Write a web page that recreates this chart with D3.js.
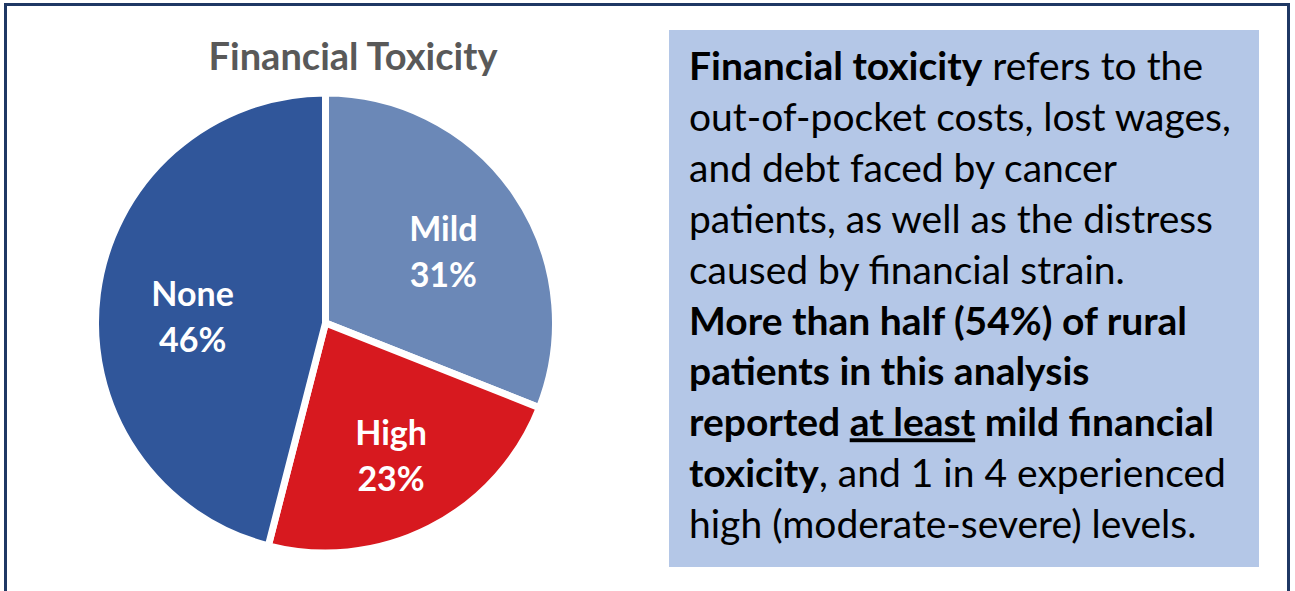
<!DOCTYPE html>
<html>
<head>
<meta charset="utf-8">
<script src="https://cdn.jsdelivr.net/npm/d3@7"></script>
<style>
  body { margin: 0; background: #fff; }
  svg { display: block; font-family: Lato, "Open Sans", sans-serif; }
</style>
</head>
<body>
<div class="chart"></div>
<script>
var svgWidth = 1295;
var svgHeight = 591;

// pie data (clockwise from 12 o'clock)
var categories = ["Mild", "High", "None"];
var values = [31, 23, 46];
var sliceColors = ["#6b88b7", "#d7191f", "#30569a"];

var title = "Financial Toxicity";

// text in the blue box, one array per line: [text, bold, underline]
var noteLines = [
  [["Financial toxicity", true], [" refers to the", false]],
  [["out-of-pocket costs, lost wages,", false]],
  [["and debt faced by cancer", false]],
  [["patients, as well as the distress", false]],
  [["caused by financial strain.", false]],
  [["More than half (54%) of rural", true]],
  [["patients in this analysis", true]],
  [["reported ", true], ["at least", true, true], [" mild financial", true]],
  [["toxicity", true], [", and 1 in 4 experienced", false]],
  [["high (moderate-severe) levels.", false]]
];

var svg = d3.select(".chart")
  .append("svg")
  .attr("width", svgWidth)
  .attr("height", svgHeight);

// outer frame
svg.append("rect")
  .attr("x", 5.5)
  .attr("y", 4.5)
  .attr("width", 1283)
  .attr("height", 600)
  .attr("fill", "none")
  .attr("stroke", "#1f3864")
  .attr("stroke-width", 3);

// title
svg.append("text")
  .attr("x", 353)
  .attr("y", 70)
  .attr("text-anchor", "middle")
  .attr("font-size", 38)
  .attr("font-weight", "bold")
  .attr("fill", "#595959")
  .text(title);

// pie
var cx = 325.5, cy = 323, radius = 230;

var color = d3.scaleOrdinal().domain(categories).range(sliceColors);

var pie = d3.pie().sort(null).value(function(d) { return d.value; });
var data = categories.map(function(c, i) { return { name: c, value: values[i] }; });
var arcs = pie(data);

var arc = d3.arc().innerRadius(0).outerRadius(radius);
var labelArc = d3.arc().innerRadius(140).outerRadius(140);

var chart = svg.append("g")
  .attr("transform", "translate(" + cx + "," + cy + ")");

chart.selectAll("path")
  .data(arcs)
  .enter()
  .append("path")
  .attr("d", arc)
  .attr("fill", function(d) { return color(d.data.name); })
  .attr("stroke", "#fff")
  .attr("stroke-width", 7)
  .attr("stroke-linejoin", "miter");

var labels = chart.selectAll(".lbl")
  .data(arcs)
  .enter()
  .append("text")
  .attr("class", "lbl")
  .attr("transform", function(d) {
    var c = labelArc.centroid(d);
    // nudge the "None" label a bit right/down like the original
    var dx = d.data.name == "None" ? 6 : 2;
    var dy = d.data.name == "None" ? 12 : 8;
    return "translate(" + (c[0] + dx) + "," + (c[1] + dy) + ")";
  })
  .attr("text-anchor", "middle")
  .attr("font-size", 34)
  .attr("font-weight", "bold")
  .attr("fill", "#fff");

labels.append("tspan")
  .attr("x", 0)
  .attr("y", -11)
  .text(function(d) { return d.data.name; });

labels.append("tspan")
  .attr("x", 0)
  .attr("y", 35)
  .text(function(d) { return d3.format(".0%")(d.data.value / 100); });

// note box
svg.append("rect")
  .attr("x", 669)
  .attr("y", 30)
  .attr("width", 590)
  .attr("height", 537)
  .attr("fill", "#b4c7e7");

var note = svg.append("g");

note.selectAll("text")
  .data(noteLines)
  .enter()
  .append("text")
  .attr("x", 689)
  .attr("y", function(d, i) { return 80 + i * 50.9; })
  .attr("font-size", 39)
  .attr("fill", "#000")
  .each(function(line) {
    var t = d3.select(this);
    line.forEach(function(seg) {
      t.append("tspan")
        .attr("font-weight", seg[1] ? "bold" : "normal")
        .style("text-decoration", seg[2] ? "underline" : null)
        .text(seg[0]);
    });
  });
</script>
</body>
</html>
